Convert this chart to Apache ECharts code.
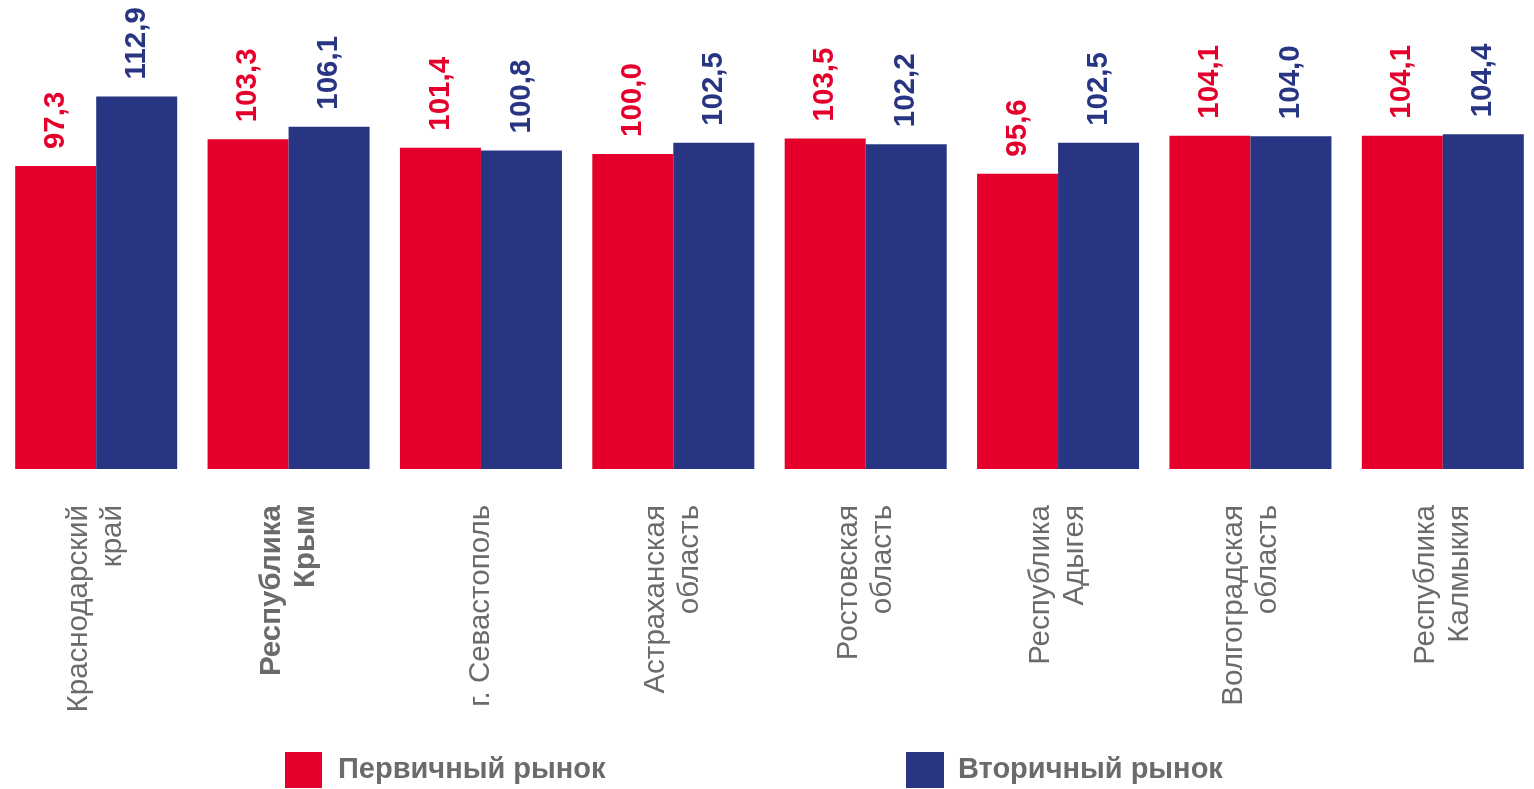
<!DOCTYPE html>
<html>
<head>
<meta charset="utf-8">
<script src="https://cdn.jsdelivr.net/npm/echarts@6/dist/echarts.min.js"></script>
<style>
html,body{margin:0;padding:0;background:#fff;overflow:hidden;}
#chart{width:1545px;height:789px;}
</style>
</head>
<body>
<div id="chart"></div>
<script>
const categories = [
  "Краснодарский\nкрай",
  "Республика\nКрым",
  "г. Севастополь",
  "Астраханская\nобласть",
  "Ростовская\nобласть",
  "Республика\nАдыгея",
  "Волгоградская\nобласть",
  "Республика\nКалмыкия"
];
const boldCategories = ["Республика\nКрым"];
const seriesNames = ["Первичный рынок", "Вторичный рынок"];
const primaryValues = [97.3, 103.3, 101.4, 100.0, 103.5, 95.6, 104.1, 104.1];
const secondaryValues = [112.9, 106.1, 100.8, 102.5, 102.2, 102.5, 104.0, 104.4];

const RED = "#E4002B";
const BLUE = "#283583";
const GRAY = "#6b6b6b";
const FONT = "'Liberation Sans', Arial, sans-serif";

function fmt(p) { return p.value.toFixed(1).replace('.', ','); }

function makeLabel(color) {
  return {
    show: true,
    position: 'top',
    rotate: 90,
    align: 'left',
    verticalAlign: 'middle',
    distance: 17,
    color: color,
    fontFamily: FONT,
    fontWeight: 'bold',
    fontSize: 29.5,
    formatter: fmt
  };
}

const chart = echarts.init(document.getElementById('chart'));
chart.setOption({
  animation: false,
  backgroundColor: '#ffffff',
  grid: { left: 0, width: 1539, top: 20, bottom: 320, containLabel: false },
  legend: [
    {
      data: [seriesNames[0]], left: 285, top: 752, padding: 0,
      icon: 'rect', itemWidth: 37, itemHeight: 36,
      textStyle: { color: GRAY, fontFamily: FONT, fontWeight: 'bold', fontSize: 29, padding: [8, 0, 0, 11] }
    },
    {
      data: [seriesNames[1]], left: 906, top: 752, padding: 0,
      icon: 'rect', itemWidth: 38, itemHeight: 36,
      textStyle: { color: GRAY, fontFamily: FONT, fontWeight: 'bold', fontSize: 29, padding: [8, 0, 0, 9] }
    }
  ],
  xAxis: {
    type: 'category',
    data: categories,
    axisLine: { show: false },
    axisTick: { show: false },
    axisLabel: {
      interval: 0,
      rotate: 90,
      margin: 36,
      color: GRAY,
      fontFamily: FONT,
      fontSize: 29.5,
      lineHeight: 34,
      formatter: function (v) {
        if (boldCategories.indexOf(v) >= 0) {
          return v.split('\n').map(s => '{b|' + s + '}').join('\n');
        }
        return v;
      },
      rich: {
        b: { fontWeight: 'bold', fontSize: 29.5, color: GRAY, fontFamily: FONT, lineHeight: 34 }
      }
    }
  },
  yAxis: {
    type: 'value',
    min: 29.5,
    max: 130,
    show: false,
    splitLine: { show: false }
  },
  series: [
    {
      name: seriesNames[0], type: 'bar', data: primaryValues,
      barWidth: 81, barGap: '0%',
      itemStyle: { color: RED },
      label: makeLabel(RED)
    },
    {
      name: seriesNames[1], type: 'bar', data: secondaryValues,
      barWidth: 81, barGap: '0%',
      itemStyle: { color: BLUE },
      label: makeLabel(BLUE)
    }
  ]
});
</script>
</body>
</html>
